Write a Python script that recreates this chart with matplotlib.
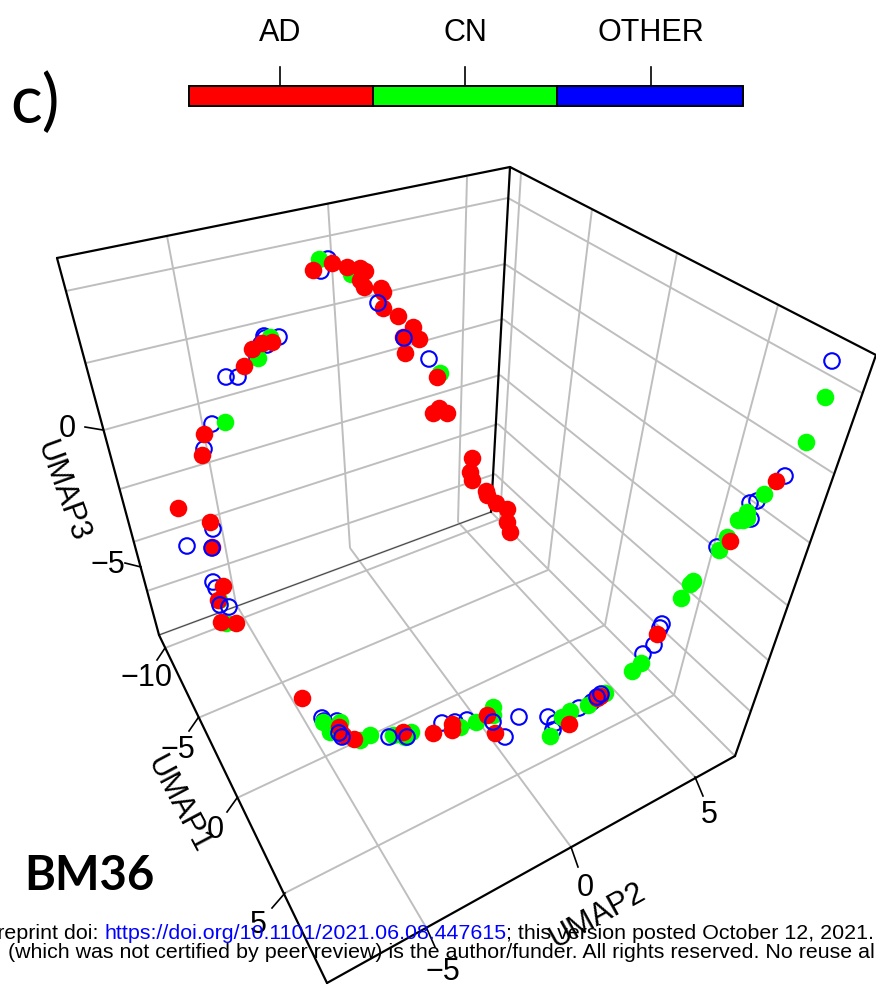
import matplotlib
matplotlib.use('Agg')
import matplotlib.pyplot as plt
from matplotlib.patches import Rectangle

# projected positions of the 3d scatter
ad_x=[313,332,347,360,365,360,364,381,383,383,398,413,419,403,405,437,439,433,447,
      244,252,262,272,
      204,202,178,210,212,223,218,221,236,
      302,339,343,354,403,433,452,452,487,495,569,597,600,
      776,730,657,
      472,470,472,486,487,496,507,507,510]
ad_y=[270,263,267,268,271,280,287,288,292,308,316,327,339,337,353,377,408,413,413,
      366,349,343,342,
      434,455,508,522,547,586,600,622,623,
      698,727,735,739,732,733,724,730,715,733,724,698,696,
      481,541,634,
      458,472,480,491,495,503,509,522,532]
cn_x=[319,351,440,258,270,
      225,226,219,
      323,330,340,360,370,393,405,411,460,476,493,493,550,562,570,588,605,
      825,806,764,747,738,743,747,727,719,693,690,681,641,632]
cn_y=[259,274,373,358,337,
      422,623,600,
      722,732,722,740,735,735,737,732,727,722,707,715,736,717,711,705,693,
      397,442,494,512,520,520,518,537,550,581,584,598,663,671]
other_x=[328,321,257,226,238,279,264,267,261,265,
         212,204,213,187,213,216,
         322,324,337,442,455,467,505,519,548,555,553,579,592,
         785,757,750,751,717,662,660,654,643]
other_y=[259,271,357,377,377,337,336,345,344,338,
         424,449,529,546,582,588,
         718,721,721,723,722,720,737,717,717,723,730,708,702,
         476,501,503,519,547,624,628,645,654]
# these circles sit on top of the red points
other_top_x=[378,404,429,212,220,229,339,342,389,407,493,597,601,832]
other_top_y=[303,338,359,548,605,607,733,737,737,737,722,697,694,361]

# box edges and grid lines, each as (x0,y0,x1,y1)
box_edges=[(57,258,510,167),(510,167,876,355),(876,355,735,756),(735,756,327,983),
           (327,983,159,635),(159,635,57,258),(510,167,491,512)]
wall_grid=[(66,291,508,198),(86,363,505,264),(104,430,503,319),(120,489,500,375),
           (133,542,498,424),(147,591,495,474),
           (508,198,862,393),(505,264,833,473),(503,319,810,543),(500,375,787,605),
           (498,424,768,660),(495,474,750,711),
           (167,236,236,604),(328,204,350,548),(467,177,458,522),
           (521,173,500,519),(592,209,548,570),(677,253,605,625),(778,305,674,695)]
floor_grid=[(165,648,500,519),(198,718,548,570),(237,798,605,625),(285,893,674,695),
            (236,604,427,929),(350,548,571,847),(458,522,695,777),
            (159,635,491,512),(491,512,735,756)]
ticks=[(85,427,103,430),(125,563,141,567),(157,660,165,648),(189,731,198,718),
       (227,812,237,798),(272,908,285,893),(435,947,427,929),(578,867,571,847),(703,796,695,777)]
tick_labels=[('0',67,426),('\u22125',108,562),('\u221210',147,675),('\u22125',178,747),('0',215,827),
             ('5',258,922),('\u22125',443,969),('0',585,885),('5',709,812)]
axis_labels=[('UMAP3',62,492,-70),('UMAP1',178,805,-62),('UMAP2',598,916,29)]

legend_names=['AD','CN','OTHER']
legend_colors=['#FF0000','#00FF00','#0000FF']
legend_edges=[189,373,557,743]
legend_ticks=[280,465,651]

plt.rcParams['font.family']=['Liberation Sans','DejaVu Sans']
fig=plt.figure(figsize=(8.76,9.88),dpi=100)
ax=fig.add_axes([0,0,1,1])
ax.set_xlim(0,876)
ax.set_ylim(988,0)
ax.axis('off')

for x0,y0,x1,y1 in wall_grid+floor_grid:
    ax.plot([x0,x1],[y0,y1],color='#BEBEBE',lw=1.4,zorder=1,solid_capstyle='butt')
ax.plot([159,491],[635,512],color='#404040',lw=0.7,zorder=1.5)
for x0,y0,x1,y1 in box_edges:
    ax.plot([x0,x1],[y0,y1],color='black',lw=1.6,zorder=1.5,solid_capstyle='round')
for x0,y0,x1,y1 in ticks:
    ax.plot([x0,x1],[y0,y1],color='black',lw=1.2,zorder=1.5)

ax.scatter(other_x,other_y,s=125,facecolors='none',edgecolors='#0000FF',linewidths=1.5,zorder=2)
ax.scatter(cn_x,cn_y,s=160,color='#00FF00',linewidths=0,zorder=3)
ax.scatter(ad_x,ad_y,s=160,color='#FF0000',linewidths=0,zorder=4)
ax.scatter(other_top_x,other_top_y,s=125,facecolors='none',edgecolors='#0000FF',linewidths=1.5,zorder=5)

for t,x,y in tick_labels:
    ax.text(x,y+3,t,fontsize=22,ha='center',va='center',zorder=6)
for t,x,y,r in axis_labels:
    ax.text(x,y,t,fontsize=22,ha='center',va='center',rotation=r,rotation_mode='anchor',zorder=6)

# colour key on top
for i in range(3):
    ax.add_patch(Rectangle((legend_edges[i],86),legend_edges[i+1]-legend_edges[i],20,
                           facecolor=legend_colors[i],edgecolor='black',lw=1.4,zorder=2))
    ax.plot([legend_ticks[i],legend_ticks[i]],[67,86],color='black',lw=1.2)
    ax.text(legend_ticks[i],33,legend_names[i],fontsize=22,ha='center',va='center')

ax.text(10,104,'c)',fontsize=48,family='Lato',ha='left',va='center')
ax.text(24,876,'BM36',fontsize=34,family='Lato',weight='bold',ha='left',va='center')

# preprint stamp, runs off both sides
ax.text(98,933,'bioRxiv preprint doi:',fontsize=15.4,ha='right',va='center',zorder=7)
ax.text(105,933,'https://doi.org/10.1101/2021.06.08.447615',fontsize=15.4,color='#0000FF',ha='left',va='center',zorder=7)
ax.text(506,933,'; this version posted October 12, 2021.',fontsize=15.4,ha='left',va='center',zorder=7)
ax.text(8,952,'(which was not certified by peer review) is the author/funder. All rights reserved. No reuse allowed without permission.',
        fontsize=15.4,ha='left',va='center',zorder=7)

fig.savefig('out.png',dpi=100)
